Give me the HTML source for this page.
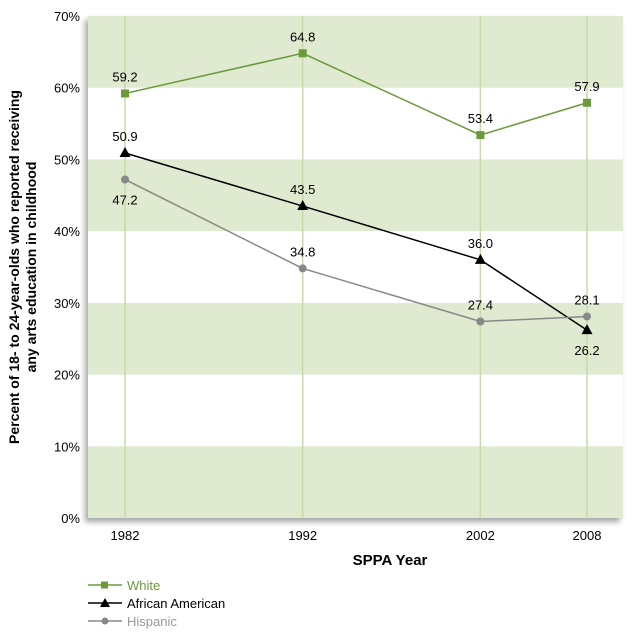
<!DOCTYPE html>
<html><head><meta charset="utf-8"><style>
body{margin:0;background:#fff;font-family:"Liberation Sans",sans-serif}
svg text{font-family:"Liberation Sans",sans-serif}
</style></head><body>
<svg width="640" height="630">
<defs><filter id="sh" x="-5%" y="-5%" width="115%" height="115%"><feDropShadow dx="-3" dy="4" stdDeviation="3" flood-color="#000" flood-opacity="0.35"/></filter></defs>
<g id="plot"></g>
<text x="390" y="565" font-size="15" font-weight="bold" text-anchor="middle">SPPA Year</text>
<text transform="translate(22,267) rotate(-90)" font-size="14" font-weight="bold" text-anchor="middle"><tspan x="0" dy="-3">Percent of 18- to 24-year-olds who reported receiving</tspan><tspan x="0" dy="17">any arts education in childhood</tspan></text>
<g>
<g><line x1="88" x2="122" y1="585" y2="585" stroke="#6a9a3a" stroke-width="1.5"/><rect x="101" y="581.5" width="7" height="7" fill="#6a9a3a"/><text x="127" y="590" font-size="13" fill="#6a9a3a">White</text></g>
<g><line x1="88" x2="122" y1="603" y2="603" stroke="#000" stroke-width="1.5"/><path d="M105 598 L110 607 L100 607Z" fill="#000"/><text x="127" y="608" font-size="13">African American</text></g>
<g><line x1="88" x2="122" y1="621" y2="621" stroke="#888" stroke-width="1.5"/><circle cx="105" cy="621" r="3.5" fill="#888"/><text x="127" y="626" font-size="13" fill="#999">Hispanic</text></g>
</g>
</svg>
<script>
const years=[1982,1992,2002,2008];
const white=[59.2,64.8,53.4,57.9];
const african=[50.9,43.5,36.0,26.2];
const hispanic=[47.2,34.8,27.4,28.1];
const yTicks=[0,10,20,30,40,50,60,70];
const NS="http://www.w3.org/2000/svg";
const L=88,R=623,T=16,B=518;
const x=v=>125+(v-1982)*(587-125)/26;
const y=v=>B-(v/70)*(B-T);
const g=document.getElementById('plot');
function mk(t,a,p){const e=document.createElementNS(NS,t);for(const k in a)e.setAttribute(k,a[k]);(p||g).appendChild(e);return e;}
const bg=mk('rect',{x:L,y:T,width:R-L,height:B-T,fill:'#fff',filter:'url(#sh)'});


for(let i=0;i<yTicks.length-1;i+=2){
 const b=mk('rect',{x:L,y:y(yTicks[i+1]),width:R-L,height:y(yTicks[i])-y(yTicks[i+1]),fill:'#dfead0'});
 
 
}
yTicks.forEach(t=>{
 const e=mk('text',{x:80,y:y(t)+5,'font-size':13,'text-anchor':'end'});e.textContent=t+'%';
 
 
});
years.forEach(v=>{
 const l=mk('line',{x1:x(v),x2:x(v),y1:T,y2:B,stroke:'#c5dba8','stroke-width':1.5});
 
 
 const e=mk('text',{x:x(v),y:540,'font-size':13,'text-anchor':'middle'});e.textContent=v;
 
 
});
function series(name,vals,col,shape,labOff){
 const p=mk('polyline',{points:vals.map((v,i)=>x(years[i])+','+y(v)).join(' '),fill:'none',stroke:col,'stroke-width':1.5});
 
 
 vals.forEach((v,i)=>{
  const cx=x(years[i]),cy=y(v);let m;
  if(shape==='sq')m=mk('rect',{x:cx-4,y:cy-4,width:8,height:8,fill:col});
  else if(shape==='tri')m=mk('path',{d:`M${cx} ${cy-6}L${cx+5.5} ${cy+4}L${cx-5.5} ${cy+4}Z`,fill:col});
  else m=mk('circle',{cx:cx,cy:cy,r:4,fill:col});
  
  
  const t=mk('text',{x:cx,y:cy+labOff[i],'font-size':13,'text-anchor':'middle'});t.textContent=v.toFixed(1);
  
  
 });
}
series('white',white,'#6a9a3a','sq',[-12,-12,-12,-12]);
series('african-american',african,'#000','tri',[-12,-12,-12,25]);
series('hispanic',hispanic,'#888','circ',[25,-12,-12,-12]);
</script>
</body></html>
